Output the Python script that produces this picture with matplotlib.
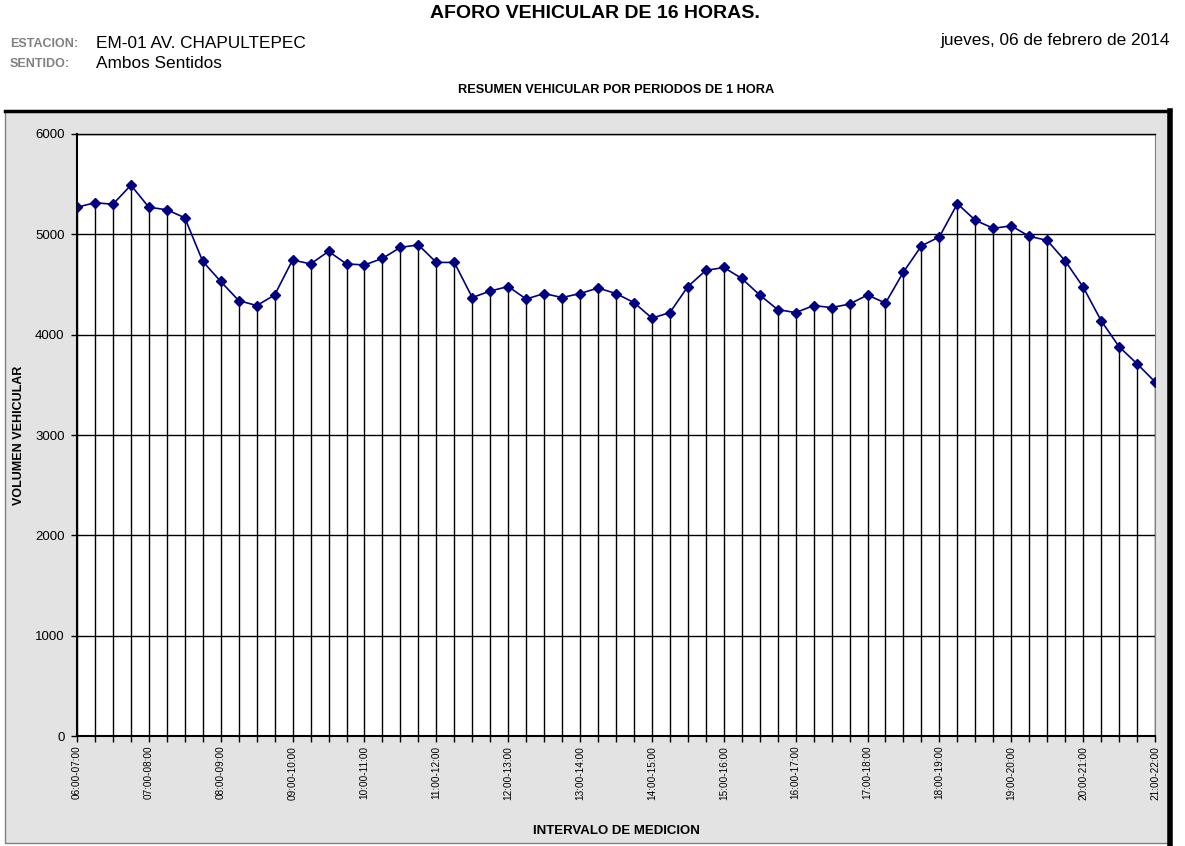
import matplotlib.pyplot as plt
from matplotlib.patches import Rectangle
from matplotlib.lines import Line2D

plt.rcParams['font.family'] = ['Liberation Sans', 'DejaVu Sans']

# intervalos de 1 hora cada 15 minutos, 06:00-07:00 ... 21:00-22:00
intervals = []
for h in range(6, 22):
    for m in (0, 15, 30, 45):
        if h == 21 and m > 0:
            break
        intervals.append(f'{h:02d}:{m:02d}-{h + 1:02d}:{m:02d}')

volumes = [5270, 5315, 5300, 5490, 5270, 5245, 5165, 4730, 4530, 4340,
           4290, 4395, 4745, 4705, 4830, 4705, 4695, 4760, 4870, 4895,
           4720, 4720, 4370, 4435, 4480, 4355, 4410, 4370, 4410, 4465,
           4410, 4320, 4165, 4220, 4480, 4640, 4670, 4560, 4395, 4250,
           4220, 4290, 4270, 4305, 4395, 4315, 4625, 4885, 4975, 5305,
           5140, 5060, 5085, 4980, 4940, 4735, 4475, 4140, 3880, 3710,
           3530]

y_ticks = [0, 1000, 2000, 3000, 4000, 5000, 6000]

W, H = 1185, 846
fig = plt.figure(figsize=(W / 100, H / 100), dpi=100)

# marco gris del grafico
fig.patches.append(Rectangle((5 / W, 1 - 843 / H), 1165 / W, 732 / H,
                             transform=fig.transFigure, facecolor='#E3E3E3',
                             edgecolor='#808080', lw=1, zorder=-5))
fig.lines.append(Line2D([5 / W, 1170 / W], [1 - 111 / H, 1 - 111 / H],
                        transform=fig.transFigure, color='black', lw=2.5, zorder=-4))
fig.lines.append(Line2D([1170 / W, 1170 / W], [1 - 111 / H, 1 - 846 / H],
                        transform=fig.transFigure, color='black', lw=4, zorder=-4))

ax = fig.add_axes([77 / W, 1 - 736 / H, 1078 / W, 602 / H])
ax.set_facecolor('white')

x = list(range(len(volumes)))
ax.vlines(x, 0, volumes, color='black', lw=1, zorder=2)
ax.plot(x, volumes, color='#000080', lw=1.2, marker='D', ms=5, zorder=3)

ax.set_xlim(0, len(volumes) - 1)
ax.set_ylim(0, 6000)
ax.set_yticks(y_ticks)
ax.set_yticklabels([str(v) for v in y_ticks], fontsize=9.5)
ax.yaxis.grid(True, color='black', lw=1)
ax.set_axisbelow(True)

ax.set_xticks(x[::4])
ax.set_xticklabels(intervals[::4], rotation=90, fontsize=7.2)
ax.set_xticks(x, minor=True)
ax.tick_params(axis='x', which='both', direction='out', length=4, width=1, pad=3)
ax.tick_params(axis='y', direction='out', length=4, width=1, pad=5)

for side in ('left', 'bottom'):
    ax.spines[side].set_linewidth(1.5)
ax.spines['top'].set_linewidth(1)
ax.spines['right'].set_color('#808080')

ax.set_ylabel('VOLUMEN VEHICULAR', fontsize=9, fontweight='bold', labelpad=7)
ax.set_xlabel('INTERVALO DE MEDICION', fontsize=9.5, fontweight='bold', labelpad=18)

# encabezado
fig.text(595 / W, 1 - 13 / H, 'AFORO VEHICULAR DE 16 HORAS.', ha='center', va='center',
         fontsize=14, fontweight='bold')
fig.text(10 / W, 1 - 44 / H, 'ESTACION:', ha='left', va='center', fontsize=9,
         fontweight='bold', color='#808080')
fig.text(96 / W, 1 - 44 / H, 'EM-01 AV. CHAPULTEPEC', ha='left', va='center', fontsize=12.4)
fig.text(10 / W, 1 - 64 / H, 'SENTIDO:', ha='left', va='center', fontsize=9,
         fontweight='bold', color='#808080')
fig.text(96 / W, 1 - 64 / H, 'Ambos Sentidos', ha='left', va='center', fontsize=12.4)
fig.text(1170 / W, 1 - 40 / H, 'jueves, 06 de febrero de 2014', ha='right', va='center',
         fontsize=12.4)
fig.text(616 / W, 1 - 90 / H, 'RESUMEN VEHICULAR POR PERIODOS DE 1 HORA', ha='center',
         va='center', fontsize=9.2, fontweight='bold')

fig.savefig('out.png', dpi=100)
